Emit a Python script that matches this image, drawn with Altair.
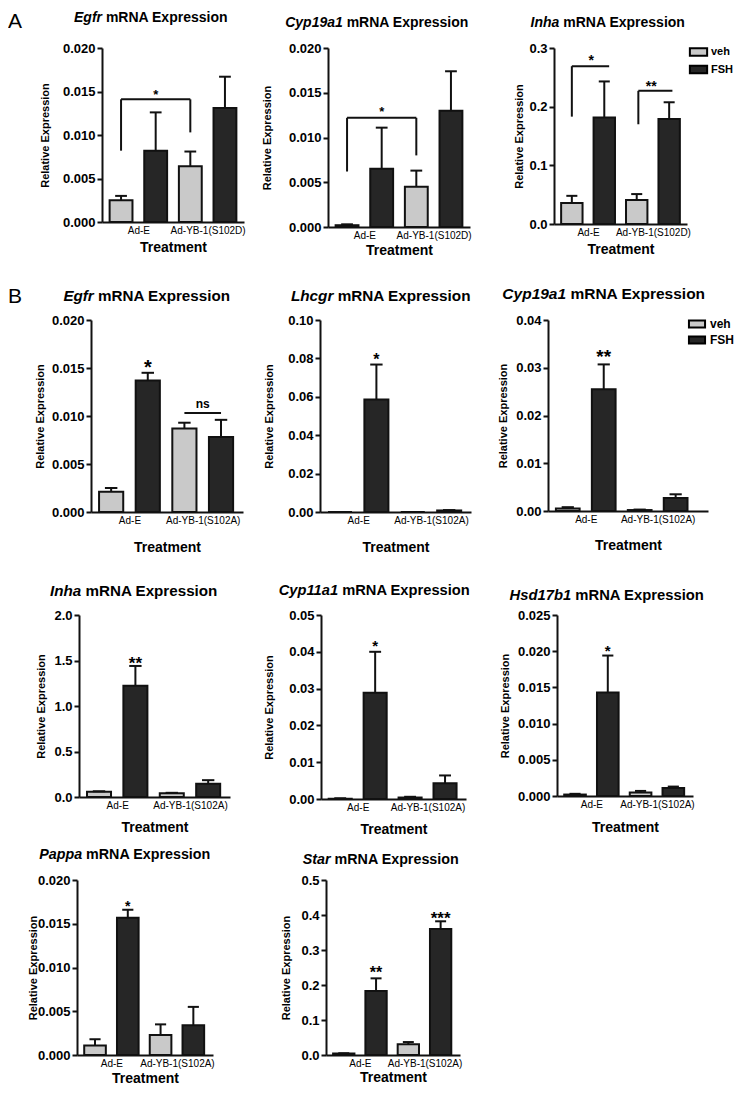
import altair as alt
import pandas as pd

FONT = "Liberation Sans"
INK = "#111111"
VEH_FILL = "#c9c9c9"
FSH_FILL = "#262626"

treatments = ["veh", "FSH"]
groups_A = ["Ad-E", "Ad-YB-1(S102D)"]
groups_B = ["Ad-E", "Ad-YB-1(S102A)"]
title_suffix = "mRNA Expression"
y_title = "Relative Expression"
x_title = "Treatment"

# ---------------- Panel A ----------------
a_egfr_veh = [0.0025, 0.0064]
a_egfr_veh_sem = [0.0005, 0.0017]
a_egfr_fsh = [0.0082, 0.0131]
a_egfr_fsh_sem = [0.0044, 0.0036]
a_egfr_ticks = [0.000, 0.005, 0.010, 0.015, 0.020]
a_egfr_brackets = [(1, 3, 0.0082, 0.0141, 0.0103)]
a_egfr_sig = [("*", 2.0, 0.0149)]

a_cyp19_veh = [0.0002, 0.0045]
a_cyp19_veh_sem = [0.0001, 0.0018]
a_cyp19_fsh = [0.0065, 0.0130]
a_cyp19_fsh_sem = [0.0046, 0.0044]
a_cyp19_ticks = [0.000, 0.005, 0.010, 0.015, 0.020]
a_cyp19_brackets = [(1, 3, 0.0062, 0.0122, 0.0080)]
a_cyp19_sig = [("*", 2.0, 0.0131)]

a_inha_veh = [0.036, 0.041]
a_inha_veh_sem = [0.012, 0.010]
a_inha_fsh = [0.1815, 0.179]
a_inha_fsh_sem = [0.0615, 0.0285]
a_inha_ticks = [0.0, 0.1, 0.2, 0.3]
a_inha_brackets = [(1, 2.15, 0.183, 0.269, 0.269), (3.05, 4.1, 0.170, 0.227, 0.227)]
a_inha_sig = [("*", 1.6, 0.282), ("**", 3.45, 0.239)]

# ---------------- Panel B ----------------
b_egfr_veh = [0.0021, 0.0087]
b_egfr_veh_sem = [0.0004, 0.0006]
b_egfr_fsh = [0.0137, 0.0078]
b_egfr_fsh_sem = [0.0008, 0.0018]
b_egfr_ticks = [0.000, 0.005, 0.010, 0.015, 0.020]
b_egfr_brackets = [(3, 4, 0.0103, 0.0103, 0.0103)]
b_egfr_sig = [("*", 2.0, 0.0154), ("ns", 3.5, 0.0112)]

b_lhcgr_veh = [0.0, 0.0]
b_lhcgr_veh_sem = [0.0, 0.0]
b_lhcgr_fsh = [0.0586, 0.0008]
b_lhcgr_fsh_sem = [0.0182, 0.0002]
b_lhcgr_ticks = [0.00, 0.02, 0.04, 0.06, 0.08, 0.10]
b_lhcgr_sig = [("*", 2.0, 0.0808)]

b_cyp19_veh = [0.0005, 0.0002]
b_cyp19_veh_sem = [0.0003, 0.0001]
b_cyp19_fsh = [0.0255, 0.0027]
b_cyp19_fsh_sem = [0.0052, 0.0008]
b_cyp19_ticks = [0.00, 0.01, 0.02, 0.03, 0.04]
b_cyp19_sig = [("**", 2.0, 0.0331)]

b_inha_veh = [0.058, 0.040]
b_inha_veh_sem = [0.005, 0.006]
b_inha_fsh = [1.222, 0.145]
b_inha_fsh_sem = [0.218, 0.040]
b_inha_ticks = [0.0, 0.5, 1.0, 1.5, 2.0]
b_inha_sig = [("**", 2.0, 1.50)]

b_cyp11_veh = [0.0001, 0.0004]
b_cyp11_veh_sem = [0.0001, 0.0002]
b_cyp11_fsh = [0.0289, 0.0043]
b_cyp11_fsh_sem = [0.0111, 0.0021]
b_cyp11_ticks = [0.00, 0.01, 0.02, 0.03, 0.04, 0.05]
b_cyp11_sig = [("*", 2.0, 0.0425)]

b_hsd_veh = [0.0002, 0.0005]
b_hsd_veh_sem = [0.0001, 0.0002]
b_hsd_fsh = [0.0143, 0.0011]
b_hsd_fsh_sem = [0.0051, 0.0002]
b_hsd_ticks = [0.000, 0.005, 0.010, 0.015, 0.020, 0.025]
b_hsd_sig = [("*", 2.0, 0.0205)]

b_pappa_veh = [0.0011, 0.0023]
b_pappa_veh_sem = [0.0007, 0.0012]
b_pappa_fsh = [0.0157, 0.0034]
b_pappa_fsh_sem = [0.0009, 0.0021]
b_pappa_ticks = [0.000, 0.005, 0.010, 0.015, 0.020]
b_pappa_sig = [("*", 2.0, 0.0172)]

b_star_veh = [0.004, 0.031]
b_star_veh_sem = [0.001, 0.006]
b_star_fsh = [0.183, 0.360]
b_star_fsh_sem = [0.036, 0.022]
b_star_ticks = [0.0, 0.1, 0.2, 0.3, 0.4, 0.5]
b_star_sig = [("**", 2.0, 0.244), ("***", 4.0, 0.399)]

PANELS = {
    "a_egfr": dict(gene="Egfr", groups=groups_A, veh=a_egfr_veh, veh_sem=a_egfr_veh_sem, fsh=a_egfr_fsh, fsh_sem=a_egfr_fsh_sem, ticks=a_egfr_ticks, fmt=".3f", brackets=a_egfr_brackets, sig=a_egfr_sig),
    "a_cyp19": dict(gene="Cyp19a1", groups=groups_A, veh=a_cyp19_veh, veh_sem=a_cyp19_veh_sem, fsh=a_cyp19_fsh, fsh_sem=a_cyp19_fsh_sem, ticks=a_cyp19_ticks, fmt=".3f", brackets=a_cyp19_brackets, sig=a_cyp19_sig),
    "a_inha": dict(gene="Inha", groups=groups_A, veh=a_inha_veh, veh_sem=a_inha_veh_sem, fsh=a_inha_fsh, fsh_sem=a_inha_fsh_sem, ticks=a_inha_ticks, fmt=".1f", brackets=a_inha_brackets, sig=a_inha_sig),
    "b_egfr": dict(gene="Egfr", groups=groups_B, veh=b_egfr_veh, veh_sem=b_egfr_veh_sem, fsh=b_egfr_fsh, fsh_sem=b_egfr_fsh_sem, ticks=b_egfr_ticks, fmt=".3f", brackets=b_egfr_brackets, sig=b_egfr_sig),
    "b_lhcgr": dict(gene="Lhcgr", groups=groups_B, veh=b_lhcgr_veh, veh_sem=b_lhcgr_veh_sem, fsh=b_lhcgr_fsh, fsh_sem=b_lhcgr_fsh_sem, ticks=b_lhcgr_ticks, fmt=".2f", brackets=[], sig=b_lhcgr_sig),
    "b_cyp19": dict(gene="Cyp19a1", groups=groups_B, veh=b_cyp19_veh, veh_sem=b_cyp19_veh_sem, fsh=b_cyp19_fsh, fsh_sem=b_cyp19_fsh_sem, ticks=b_cyp19_ticks, fmt=".2f", brackets=[], sig=b_cyp19_sig),
    "b_inha": dict(gene="Inha", groups=groups_B, veh=b_inha_veh, veh_sem=b_inha_veh_sem, fsh=b_inha_fsh, fsh_sem=b_inha_fsh_sem, ticks=b_inha_ticks, fmt=".1f", brackets=[], sig=b_inha_sig),
    "b_cyp11": dict(gene="Cyp11a1", groups=groups_B, veh=b_cyp11_veh, veh_sem=b_cyp11_veh_sem, fsh=b_cyp11_fsh, fsh_sem=b_cyp11_fsh_sem, ticks=b_cyp11_ticks, fmt=".2f", brackets=[], sig=b_cyp11_sig),
    "b_hsd": dict(gene="Hsd17b1", groups=groups_B, veh=b_hsd_veh, veh_sem=b_hsd_veh_sem, fsh=b_hsd_fsh, fsh_sem=b_hsd_fsh_sem, ticks=b_hsd_ticks, fmt=".3f", brackets=[], sig=b_hsd_sig),
    "b_pappa": dict(gene="Pappa", groups=groups_B, veh=b_pappa_veh, veh_sem=b_pappa_veh_sem, fsh=b_pappa_fsh, fsh_sem=b_pappa_fsh_sem, ticks=b_pappa_ticks, fmt=".3f", brackets=[], sig=b_pappa_sig),
    "b_star": dict(gene="Star", groups=groups_B, veh=b_star_veh, veh_sem=b_star_veh_sem, fsh=b_star_fsh, fsh_sem=b_star_fsh_sem, ticks=b_star_ticks, fmt=".1f", brackets=[], sig=b_star_sig),
}

# layout / style (pixels)
STYLE = {
    "a_egfr": dict(w=142, h=174, xmax=4.55, tcx=49, ty=-30, tfs=14, yt=-57, xt=25, sfs=[13]),
    "a_cyp19": dict(w=142, h=179, xmax=4.55, tcx=49, ty=-25, tfs=14, yt=-61, xt=23, sfs=[13]),
    "a_inha": dict(w=133, h=176, xmax=4.55, tcx=54, ty=-25, tfs=14, yt=-35, xt=25, sfs=[14, 14]),
    "b_egfr": dict(w=152, h=192, xmax=4.6, tcx=56, ty=-24, tfs=15.2, yt=-51, xt=35, sfs=[20, 12]),
    "b_lhcgr": dict(w=151, h=192, xmax=4.6, tcx=61, ty=-24, tfs=15.3, yt=-51, xt=35, sfs=[16]),
    "b_cyp19": dict(w=160, h=191, xmax=4.9, tcx=56, ty=-26, tfs=15.5, yt=-45, xt=34, sfs=[19]),
    "b_inha": dict(w=151, h=182, xmax=4.6, tcx=55, ty=-24, tfs=15.2, yt=-38, xt=30, sfs=[17]),
    "b_cyp11": dict(w=145, h=184, xmax=4.6, tcx=53, ty=-24, tfs=14.7, yt=-52, xt=30, sfs=[15]),
    "b_hsd": dict(w=136, h=181, xmax=4.6, tcx=50, ty=-19, tfs=14.8, yt=-52, xt=31, sfs=[15]),
    "b_pappa": dict(w=136, h=175, xmax=4.6, tcx=48, ty=-25, tfs=14.3, yt=-44, xt=23, sfs=[14]),
    "b_star": dict(w=134, h=175, xmax=4.6, tcx=55, ty=-20, tfs=14.3, yt=-40, xt=22, sfs=[16, 17]),
}

CW = {'E': 667, 'g': 611, 'f': 333, 'r': 389, 'C': 722, 'y': 556, 'p': 611, '1': 556, '9': 556,
      'a': 556, 'I': 278, 'n': 611, 'h': 611, 'L': 611, 'c': 556, 'H': 722, 's': 556, 'd': 611,
      '7': 556, 'b': 611, 'P': 667, 'S': 667, 't': 333, 'm': 889, 'R': 722, 'N': 722, 'A': 722,
      'x': 556, 'e': 556, 'i': 278, 'o': 611, ' ': 278}


def text_width(s, fs):
    return sum(CW.get(c, 556) for c in s) * fs / 1000.0


LEG_PATH = "M-1.15,-0.5L1.15,-0.5L1.15,0.5L-1.15,0.5Z"
ONE = pd.DataFrame({"k": [0]})


def bar_table(groups, veh, veh_sem, fsh, fsh_sem):
    rows = []
    for gi, g in enumerate(groups):
        for ti, (t, m, s) in enumerate([(treatments[0], veh[gi], veh_sem[gi]),
                                         (treatments[1], fsh[gi], fsh_sem[gi])]):
            rows.append({"group": g, "treatment": t, "slot": 2 * gi + ti + 1, "mean": m, "sem": s})
    return pd.DataFrame(rows)


def bracket_table(brackets):
    segs = []
    for (x1, x2, y1, yt, y2) in brackets:
        for s in [(x1, x1, y1, yt), (x1, x2, yt, yt), (x2, x2, yt, y2)]:
            if s[0] != s[1] or s[2] != s[3]:
                segs.append({"xa": s[0], "xb": s[1], "ya": s[2], "yb": s[3]})
    return pd.DataFrame(segs)


def make_panel(key, legend=None, anchor=None):
    d = PANELS[key]
    st = STYLE[key]
    W, H = st["w"], st["h"]
    df = bar_table(d["groups"], d["veh"], d["veh_sem"], d["fsh"], d["fsh_sem"])
    xs = alt.Scale(domain=[0.45, st["xmax"]], nice=False, zero=False)
    ys = alt.Scale(domain=[d["ticks"][0], d["ticks"][-1]], nice=False, zero=True)
    g0, g1 = d["groups"]
    xaxis = alt.Axis(values=[1.5, 3.5], labelExpr=f"datum.value < 2.5 ? '{g0}' : '{g1}'",
                     ticks=False, tickSize=0, grid=False, labelFontSize=10, labelFontWeight="normal",
                     labelPadding=3, labelOverlap=False, labelFlush=False, labelColor="black",
                     title=x_title, titleFontSize=14, titleFontWeight="bold", titleX=W / 2,
                     titleY=st["xt"], titleBaseline="middle", titleAlign="center", titleColor="black")
    yaxis = alt.Axis(values=d["ticks"], format=d["fmt"], grid=False, tickSize=5, labelFontSize=13,
                     labelFontWeight="bold", labelPadding=2, labelFlush=False, labelOverlap=False,
                     labelColor="black", title=y_title, titleFontSize=11, titleFontWeight="bold",
                     titleX=st["yt"], titleY=H / 2, titleAngle=270, titleBaseline="middle",
                     titleAlign="center", titleColor="black")
    cs = alt.Scale(domain=treatments, range=[VEH_FILL, FSH_FILL])

    def X(f):
        return alt.X(f, scale=xs, axis=xaxis)

    def Y(f):
        return alt.Y(f, scale=ys, axis=yaxis)

    base = alt.Chart(df).transform_calculate(
        left="datum.slot - 0.33", right="datum.slot + 0.33",
        upper="datum.mean + datum.sem", zero="0",
        capl="datum.slot - 0.17", capr="datum.slot + 0.17")

    bars = base.mark_bar(stroke=INK, strokeWidth=2).encode(
        x=X("left:Q"), x2="right:Q",
        y=Y("mean:Q"), y2="zero:Q",
        color=alt.Color("treatment:N", scale=cs, legend=legend))
    err = base.transform_filter("datum.sem > 0").mark_rule(color=INK, strokeWidth=2).encode(
        x=X("slot:Q"), y=Y("mean:Q"), y2="upper:Q")
    cap = base.transform_filter("datum.sem > 0").mark_rule(color=INK, strokeWidth=2).encode(
        x=X("capl:Q"), x2="capr:Q", y=Y("upper:Q"))
    layers = [bars, err, cap]

    if d["brackets"]:
        bt = bracket_table(d["brackets"])
        layers.append(alt.Chart(bt).mark_rule(color=INK, strokeWidth=2).encode(
            x=X("xa:Q"), x2="xb:Q", y=Y("ya:Q"), y2="yb:Q"))

    for (lab, sx, sy), fs in zip(d["sig"], st["sfs"]):
        sdf = pd.DataFrame({"sx": [sx], "sy": [sy]})
        dy = 0.2 * fs if "*" in lab else 0
        layers.append(alt.Chart(sdf).mark_text(text=lab, fontSize=fs, fontWeight="bold", font=FONT,
                                               color="black", baseline="middle", align="center", dy=dy).encode(
            x=X("sx:Q"), y=Y("sy:Q")))

    # title: italic gene name + bold remainder
    fs = st["tfs"]
    wg = text_width(d["gene"], fs)
    wsp = text_width(" ", fs)
    wr = text_width(title_suffix, fs)
    junction = st["tcx"] - (wg + wsp + wr) / 2 + wg
    layers.append(alt.Chart(ONE).mark_text(text=d["gene"], font=FONT, fontSize=fs, fontWeight="bold",
                                           fontStyle="italic", align="right", baseline="middle",
                                           color="black").encode(
        x=alt.value(junction), y=alt.value(st["ty"])))
    layers.append(alt.Chart(ONE).mark_text(text=title_suffix, font=FONT, fontSize=fs, fontWeight="bold",
                                           align="left", baseline="middle", color="black").encode(
        x=alt.value(junction + wsp), y=alt.value(st["ty"])))

    if anchor is not None:
        ax, top, bottom, letter, ly = anchor
        layers.append(alt.Chart(ONE).mark_rule(opacity=0, strokeOpacity=0, strokeWidth=1).encode(
            x=alt.value(ax), x2=alt.value(ax), y=alt.value(top), y2=alt.value(bottom)))
        if letter:
            layers.append(alt.Chart(ONE).mark_text(text=letter, font=FONT, fontSize=21, fontWeight="normal",
                                                   align="left", baseline="top", color="black").encode(
                x=alt.value(ax), y=alt.value(ly)))

    return alt.layer(*layers).properties(width=W, height=H)


def legend_spec(x, y, size, lfs, loff, rpad):
    return alt.Legend(title=None, orient="none", legendX=x, legendY=y, direction="vertical",
                      symbolType=LEG_PATH, symbolSize=size, symbolStrokeColor="black",
                      symbolStrokeWidth=2, symbolOpacity=1, labelFont=FONT, labelFontSize=lfs,
                      labelFontWeight="bold", labelColor="black", labelOffset=loff,
                      rowPadding=rpad, padding=0, offset=0)


def spacer(w):
    return alt.Chart(ONE).mark_point(opacity=0).encode(
        x=alt.value(0), y=alt.value(0)).properties(width=w, height=1)


RES = dict(x="independent", y="independent", color="independent")


def shifted(row, w):
    return alt.hconcat(spacer(w), row, spacing=0, bounds="flush").resolve_scale(**RES)


rowA = shifted(alt.hconcat(
    make_panel("a_egfr", anchor=(-94, -40, 233, "A", -37.5)),
    make_panel("a_cyp19"),
    make_panel("a_inha", legend=legend_spec(136, -4.5, 225, 11, 4, 0.5)),
    spacing=84, bounds="flush").resolve_scale(**RES), 25)

rowB1 = shifted(alt.hconcat(
    make_panel("b_egfr", anchor=(-83, -39, 251, "B", -33.6)),
    make_panel("b_lhcgr"),
    make_panel("b_cyp19", legend=legend_spec(141, -4, 196, 12, 5, 0)),
    spacing=77, bounds="flush").resolve_scale(**RES), 14)

rowB2 = shifted(alt.hconcat(
    make_panel("b_inha", anchor=(-71, -44, 222, None, 0)),
    make_panel("b_cyp11"),
    make_panel("b_hsd"),
    spacing=91, bounds="flush").resolve_scale(**RES), 2)

rowB3 = alt.hconcat(
    make_panel("b_pappa", anchor=(-69, -43, 190, None, 0)),
    make_panel("b_star"),
    spacing=113, bounds="flush").resolve_scale(**RES)

chart = alt.vconcat(rowA, rowB1, rowB2, rowB3, spacing=0).resolve_scale(**RES).properties(
    padding=0
).configure_view(stroke=None).configure_axis(
    domainColor=INK, domainWidth=2, tickColor=INK, tickWidth=2, grid=False,
    labelFont=FONT, titleFont=FONT
).configure_text(font=FONT)

chart.save("out.html", embed_options={"renderer": "svg", "actions": False})
